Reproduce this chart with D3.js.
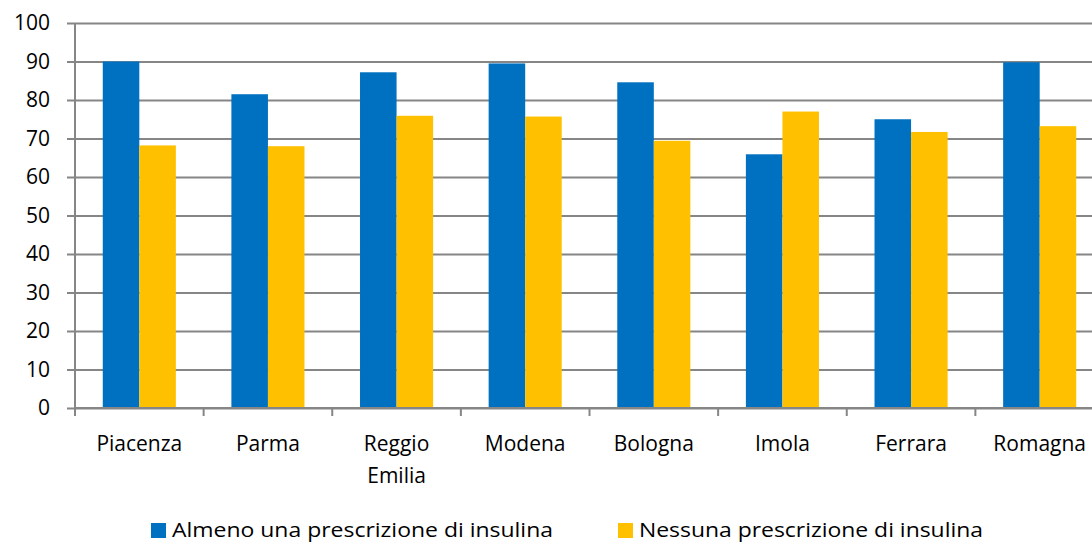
<!DOCTYPE html>
<html lang="it">
<head>
<meta charset="UTF-8">
<title>Prescrizione di insulina per AUSL</title>
<script src="https://d3js.org/d3.v7.min.js"></script>
<style>
  body { margin: 0; background: #fff; font-family: "Open Sans", sans-serif; }
  text { fill: #000; }
</style>
</head>
<body>
<svg width="1092" height="543"></svg>
<script>
const categories = ["Piacenza", "Parma", "Reggio Emilia", "Modena", "Bologna", "Imola", "Ferrara", "Romagna"];
const seriesNames = ["Almeno una prescrizione di insulina", "Nessuna prescrizione di insulina"];
const almeno = [90.0, 81.5, 87.2, 89.5, 84.6, 65.9, 75.0, 89.8];
const nessuna = [68.2, 68.0, 75.9, 75.7, 69.4, 77.0, 71.7, 73.2];
const yTicks = [0, 10, 20, 30, 40, 50, 60, 70, 80, 90, 100];

const colors = ["#0070C0", "#FFC000"];
const rows = categories.map((c, i) => ({ cat: c, values: [almeno[i], nessuna[i]] }));

const plotL = 75, plotR = 1104, plotT = 23, plotB = 408;
const svg = d3.select("svg");

const x0 = d3.scaleBand().domain(categories).range([plotL, plotR]).padding(0);
const x1 = d3.scaleBand().domain([0, 1]).range([0, x0.bandwidth()]).paddingInner(0).paddingOuter(0.76);
const y = d3.scaleLinear().domain([0, 100]).range([plotB, plotT]);

// griglia + asse y
const yAxis = svg.append("g")
  .attr("transform", `translate(${plotL},0)`)
  .call(d3.axisLeft(y).tickValues(yTicks).tickSize(8).tickPadding(17));
yAxis.select(".domain").remove();
yAxis.selectAll(".tick line").attr("stroke", "#868686").attr("stroke-width", 2)
  .attr("x2", -8).attr("x1", plotR - plotL);
yAxis.selectAll(".tick text").style("font-size", "21px").style("font-family", "'Open Sans', sans-serif");

// barre
const groups = svg.selectAll(".grp").data(rows).enter().append("g")
  .attr("transform", d => `translate(${x0(d.cat)},0)`);
groups.selectAll("rect").data(d => d.values).enter().append("rect")
  .attr("x", (d, i) => x1(i))
  .attr("y", d => y(d))
  .attr("width", x1.bandwidth())
  .attr("height", d => y(0) - y(d))
  .attr("fill", (d, i) => colors[i]);

// asse x
svg.append("line").attr("x1", plotL).attr("x2", plotR).attr("y1", plotB).attr("y2", plotB)
  .attr("stroke", "#868686").attr("stroke-width", 2);
svg.append("line").attr("x1", plotL).attr("x2", plotL).attr("y1", plotT).attr("y2", plotB + 8)
  .attr("stroke", "#868686").attr("stroke-width", 2);
categories.forEach(c => {
  svg.append("line").attr("x1", x0(c) + x0.bandwidth()).attr("x2", x0(c) + x0.bandwidth())
    .attr("y1", plotB).attr("y2", plotB + 8).attr("stroke", "#868686").attr("stroke-width", 2);
});

svg.selectAll(".cat").data(categories).enter().append("text")
  .attr("text-anchor", "middle")
  .attr("y", 451)
  .style("font-size", "21px")
  .each(function(d) {
    d.split(" ").forEach((w, k) => {
      d3.select(this).append("tspan").attr("x", x0(d) + x0.bandwidth() / 2)
        .attr("dy", k === 0 ? 0 : 32).text(w);
    });
  });

// legenda
const legX = [151, 618];
const legW = [381, 344];
seriesNames.forEach((s, i) => {
  svg.append("rect").attr("x", legX[i]).attr("y", 523).attr("width", 15).attr("height", 15).attr("fill", colors[i]);
  svg.append("text").attr("x", legX[i] + 21).attr("y", 537).style("font-size", "20px")
    .attr("textLength", legW[i]).attr("lengthAdjust", "spacingAndGlyphs").text(s);
});
</script>
</body>
</html>
